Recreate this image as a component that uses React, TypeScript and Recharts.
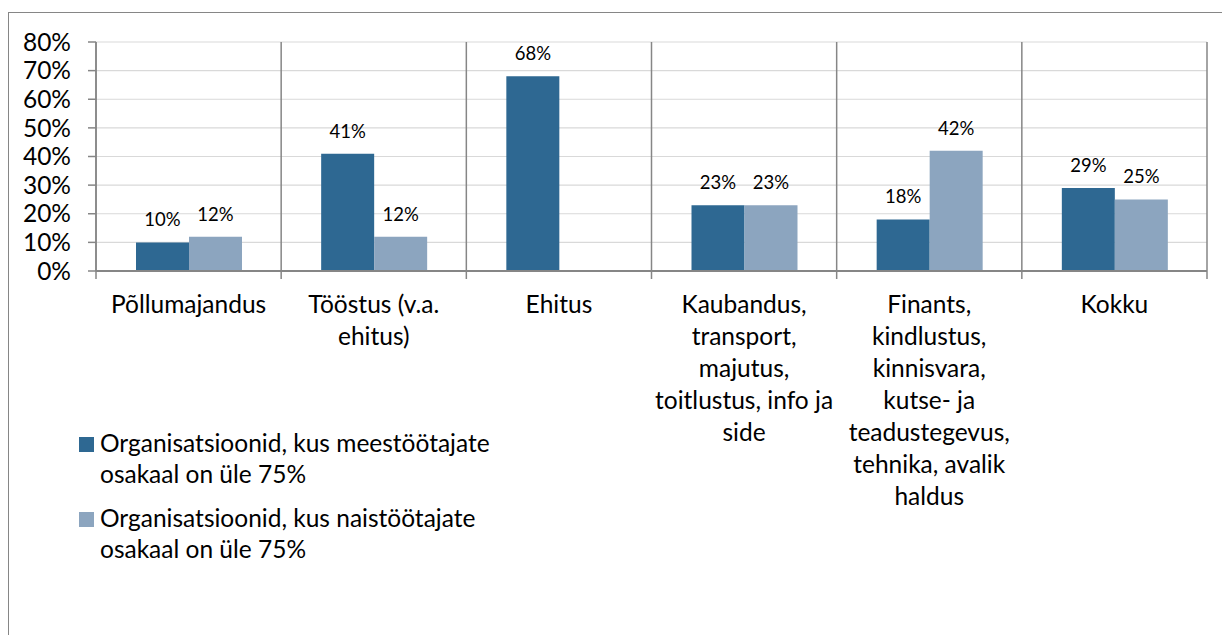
import { Bar, BarChart, CartesianGrid, LabelList, Legend, XAxis, YAxis } from 'recharts'

// Sektorid (kategooriad) ja nende read x-teljel
const KATEGOORIAD = [
  'Põllumajandus',
  'Tööstus (v.a. ehitus)',
  'Ehitus',
  'Kaubandus, transport, majutus, toitlustus, info ja side',
  'Finants, kindlustus, kinnisvara, kutse- ja teadustegevus, tehnika, avalik haldus',
  'Kokku',
]
const KATEGOORIA_READ = [
  ['Põllumajandus'],
  ['Tööstus (v.a.', 'ehitus)'],
  ['Ehitus'],
  ['Kaubandus,', 'transport,', 'majutus,', 'toitlustus, info ja', 'side'],
  ['Finants,', 'kindlustus,', 'kinnisvara,', 'kutse- ja', 'teadustegevus,', 'tehnika, avalik', 'haldus'],
  ['Kokku'],
]

const SEERIA_MEHED = 'Organisatsioonid, kus meestöötajate osakaal on üle 75%'
const SEERIA_NAISED = 'Organisatsioonid, kus naistöötajate osakaal on üle 75%'

const MEHED = [10, 41, 68, 23, 18, 29]
const NAISED: (number | null)[] = [12, 12, null, 23, 42, 25]

const Y_TICKS = [0, 10, 20, 30, 40, 50, 60, 70, 80]

const FONT = 'Lato, "Open Sans", sans-serif'
const VARV_MEHED = '#2e6892'
const VARV_NAISED = '#8ca5bf'
const TELG = '#868686'
const VORK = '#d9d9d9'
const KIRI = 24.5

const andmed = KATEGOORIAD.map((nimi, i) => ({ nimi, mehed: MEHED[i], naised: NAISED[i] }))

function KategooriaTick(props: any) {
  const { x, y, payload } = props
  const i = KATEGOORIAD.indexOf(payload.value)
  const read = KATEGOORIA_READ[i] ?? [String(payload.value)]
  const pool = payload.offset ?? 0
  return (
    <g>
      <line x1={x - pool} x2={x - pool} y1={y - 8} y2={y} stroke={TELG} strokeWidth={1.5} />
      {i === KATEGOORIAD.length - 1 && (
        <line x1={x + pool} x2={x + pool} y1={y - 8} y2={y} stroke={TELG} strokeWidth={1.5} />
      )}
      <text x={x} y={y + 34} textAnchor="middle" fontSize={KIRI} fill="#000" fontFamily={FONT}>
        {read.map((r, k) => (
          <tspan key={k} x={x} dy={k === 0 ? 0 : 32}>
            {r}
          </tspan>
        ))}
      </text>
    </g>
  )
}

function Legendi(props: any) {
  const { payload = [] } = props
  return (
    <div style={{ fontFamily: FONT, fontSize: KIRI, lineHeight: '31px', color: '#000' }}>
      {payload.map((p: any) => (
        <div key={p.value} style={{ position: 'relative', paddingLeft: 21, width: 440, marginBottom: 13 }}>
          <span
            style={{ position: 'absolute', left: 0, top: 10, width: 15, height: 15, background: p.color }}
          />
          {p.value}
        </div>
      ))}
    </div>
  )
}

export default function App() {
  return (
    <div style={{ position: 'relative', width: 1222, height: 635, overflow: 'hidden', background: '#fff' }}>
      <style>{'body{margin:0}'}</style>
      <div
        style={{
          position: 'absolute',
          left: 8,
          top: 12,
          width: 1400,
          height: 800,
          borderLeft: `1px solid ${TELG}`,
          borderTop: `1px solid ${TELG}`,
        }}
      />
      <BarChart
        width={1222}
        height={635}
        data={andmed}
        margin={{ top: 42, right: 15, left: 0, bottom: 0 }}
        barGap={0}
        barSize={53}
      >
        <CartesianGrid vertical={false} stroke={VORK} strokeWidth={1.2} />
        <CartesianGrid
          horizontal={false}
          stroke={TELG}
          strokeWidth={1.5}
          verticalCoordinatesGenerator={({ offset }: any) =>
            KATEGOORIAD.map((_, i) => offset.left + (i * offset.width) / KATEGOORIAD.length).concat(
              offset.left + offset.width,
            )
          }
        />
        <XAxis
          dataKey="nimi"
          height={364}
          interval={0}
          tickLine={false}
          tickSize={8}
          tickMargin={0}
          axisLine={{ stroke: TELG, strokeWidth: 2 }}
          tick={<KategooriaTick />}
        />
        <YAxis
          width={96}
          domain={[0, 80]}
          ticks={Y_TICKS}
          interval={0}
          tickFormatter={(v) => `${v}%`}
          tickSize={8}
          tickMargin={17}
          axisLine={{ stroke: TELG, strokeWidth: 1.5 }}
          tickLine={{ stroke: TELG, strokeWidth: 1.5 }}
          tick={{ fontSize: KIRI, fill: '#000', fontFamily: FONT }}
        />
        <Legend
          layout="horizontal"
          verticalAlign="middle"
          align="center"
          wrapperStyle={{ left: 79, top: 427, width: 470 }}
          content={<Legendi />}
        />
        <Bar dataKey="mehed" name={SEERIA_MEHED} fill={VARV_MEHED} isAnimationActive={false}>
          <LabelList
            dataKey="mehed"
            position="top"
            offset={16}
            formatter={(v: any) => (v == null ? '' : `${v}%`)}
            style={{ fontSize: 18.5, fill: '#000', fontFamily: FONT }}
          />
        </Bar>
        <Bar dataKey="naised" name={SEERIA_NAISED} fill={VARV_NAISED} isAnimationActive={false}>
          <LabelList
            dataKey="naised"
            position="top"
            offset={16}
            formatter={(v: any) => (v == null ? '' : `${v}%`)}
            style={{ fontSize: 18.5, fill: '#000', fontFamily: FONT }}
          />
        </Bar>
      </BarChart>
    </div>
  )
}
